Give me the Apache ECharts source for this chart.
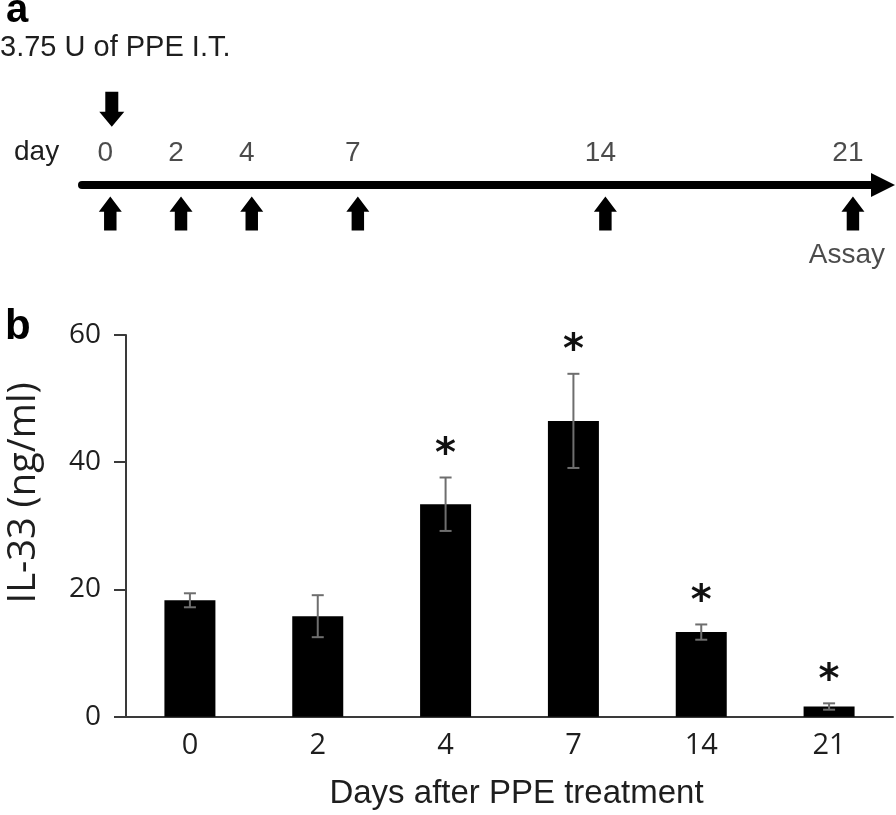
<!DOCTYPE html>
<html><head><meta charset="utf-8">
<script src="https://cdn.jsdelivr.net/npm/echarts@6/dist/echarts.min.js"></script>
<style>html,body{margin:0;padding:0;background:#fff}#main{width:896px;height:815px}</style>
</head><body><div id="main"></div>
<script>
// ---- Panel b data ----
const dayCategories = ['0', '2', '4', '7', '14', '21'];
const il33Means = [18.3, 15.8, 33.4, 46.5, 13.3, 1.6];
const il33Errors = [1.1, 3.3, 4.2, 7.4, 1.2, 0.5];
const significance = ['', '', '*', '*', '*', '*'];
const yMin = 0, yMax = 60, yStep = 20;

// ---- Panel a (timeline) data ----
const timelineDays = [0, 2, 4, 7, 14, 21];
const timelineLabels = ['0', '2', '4', '7', '14', '21'];
const treatmentDays = [0];
const assayDays = [21];

const SANS = '"Liberation Sans", Arial, sans-serif';
const OPEN = '"Open Sans", sans-serif';
const TXT = '#1e1e1e';
const AX = '#3a3a3a';

const upArrow = 'path://M12,0 L24,15.3 L18.5,15.3 L18.5,34 L5.5,34 L5.5,15.3 L0,15.3 Z';
const downArrow = 'path://M6,0 L19,0 L19,20 L25,20 L12.5,35 L0,20 L6,20 Z';

function renderErr(params, api) {
  const i = api.value(0), m = api.value(1), e = api.value(2);
  const top = api.coord([i, m + e]);
  const bot = api.coord([i, m - e]);
  const x = top[0], hw = 6;
  const ls = { stroke: '#6e6e6e', lineWidth: 2 };
  const children = [
    { type: 'line', shape: { x1: x, y1: top[1], x2: x, y2: bot[1] }, style: ls },
    { type: 'line', shape: { x1: x - hw, y1: top[1], x2: x + hw, y2: top[1] }, style: ls },
    { type: 'line', shape: { x1: x - hw, y1: bot[1], x2: x + hw, y2: bot[1] }, style: ls }
  ];
  const s = significance[params.dataIndex];
  if (s) {
    children.push({
      type: 'text',
      style: { text: s, x: x, y: top[1] - 22, font: 'bold 40px "DejaVu Sans"', fill: '#111',
               textAlign: 'center', textVerticalAlign: 'middle' }
    });
  }
  return { type: 'group', children: children };
}

const chart = echarts.init(document.getElementById('main'), null, { renderer: 'canvas' });
chart.setOption({
  backgroundColor: '#fff',
  animation: false,
  grid: [
    { left: 126, right: 3, top: 335, bottom: 98.3, containLabel: false, outerBoundsMode: 'none' },
    { left: 82, right: 13, top: 100, bottom: 630, containLabel: false, outerBoundsMode: 'none' }
  ],
  xAxis: [
    {
      gridIndex: 0, type: 'category', data: dayCategories,
      axisLine: { lineStyle: { color: AX, width: 2 } },
      axisTick: { show: false },
      axisLabel: { color: TXT, fontFamily: OPEN, fontSize: 29, margin: 15 },
      name: 'Days after PPE treatment', nameLocation: 'middle', nameGap: 61,
      nameMoveOverlap: false,
      nameTextStyle: { color: TXT, fontFamily: SANS, fontSize: 33, padding: [0, 0, 0, 14] }
    },
    {
      gridIndex: 1, type: 'value', min: -0.8, max: 21.85,
      axisLine: { show: true, lineStyle: { color: '#000', width: 8 },
                  symbol: ['none', 'triangle'], symbolSize: [24, 24] },
      axisTick: { show: false }, axisLabel: { show: false }, splitLine: { show: false }
    }
  ],
  yAxis: [
    {
      gridIndex: 0, type: 'value', min: yMin, max: yMax, interval: yStep,
      axisLine: { show: true, lineStyle: { color: AX, width: 2 } },
      axisTick: { show: true, length: 12, lineStyle: { color: AX, width: 2 } },
      axisLabel: { color: TXT, fontFamily: OPEN, fontSize: 28, margin: 25 },
      splitLine: { show: false },
      name: 'IL-33 (ng/ml)', nameLocation: 'middle', nameGap: 83,
      nameMoveOverlap: false,
      nameTextStyle: { color: TXT, fontFamily: OPEN, fontSize: 38, padding: [0, 0, 0, 66] }
    },
    { gridIndex: 1, type: 'value', min: 0, max: 1, show: false }
  ],
  graphic: [
    { type: 'text', x: 6, y: 10.5, style: { text: 'a', font: 'bold 40px ' + SANS, fill: '#000', textVerticalAlign: 'middle' } },
    { type: 'text', x: 5, y: 327, style: { text: 'b', font: 'bold 42px ' + SANS, fill: '#000', textVerticalAlign: 'middle' } },
    { type: 'text', x: 0, y: 48, style: { text: '3.75 U of PPE I.T.', font: '29px ' + SANS, fill: TXT, textVerticalAlign: 'middle' } },
    { type: 'text', x: 14, y: 152.3, style: { text: 'day', font: '28px ' + SANS, fill: TXT, textVerticalAlign: 'middle' } }
  ],
  series: [
    {
      type: 'bar', xAxisIndex: 0, yAxisIndex: 0, data: il33Means, barWidth: 51,
      itemStyle: { color: '#000' }, z: 2
    },
    {
      type: 'custom', xAxisIndex: 0, yAxisIndex: 0, renderItem: renderErr, z: 5,
      encode: { x: 0, y: 1 },
      data: dayCategories.map((c, i) => [i, il33Means[i], il33Errors[i]])
    },
    {
      type: 'scatter', xAxisIndex: 1, yAxisIndex: 1, symbol: upArrow, symbolSize: [23, 34],
      symbolOffset: [0, 28.4], itemStyle: { color: '#000', opacity: 1 },
      data: timelineDays.map(d => [d, 0]), z: 5
    },
    {
      type: 'scatter', xAxisIndex: 1, yAxisIndex: 1, symbol: downArrow, symbolSize: [25, 35],
      symbolOffset: [1.5, -75.8], itemStyle: { color: '#000', opacity: 1 },
      data: treatmentDays.map(d => [d, 0]), z: 5
    },
    {
      type: 'scatter', xAxisIndex: 1, yAxisIndex: 1, symbolSize: 1,
      itemStyle: { color: 'rgba(0,0,0,0)' },
      label: { show: true, position: 'inside', offset: [-5, -31.7],
               formatter: p => timelineLabels[p.dataIndex],
               color: TXT, fontFamily: SANS, fontSize: 28 },
      data: timelineDays.map(d => [d, 0]), z: 6
    },
    {
      type: 'scatter', xAxisIndex: 1, yAxisIndex: 1, symbolSize: 1,
      itemStyle: { color: 'rgba(0,0,0,0)' },
      label: { show: true, position: 'inside', offset: [-6, 70.3], formatter: 'Assay',
               color: TXT, fontFamily: SANS, fontSize: 28 },
      data: assayDays.map(d => [d, 0]), z: 6
    }
  ]
});
</script></body></html>
